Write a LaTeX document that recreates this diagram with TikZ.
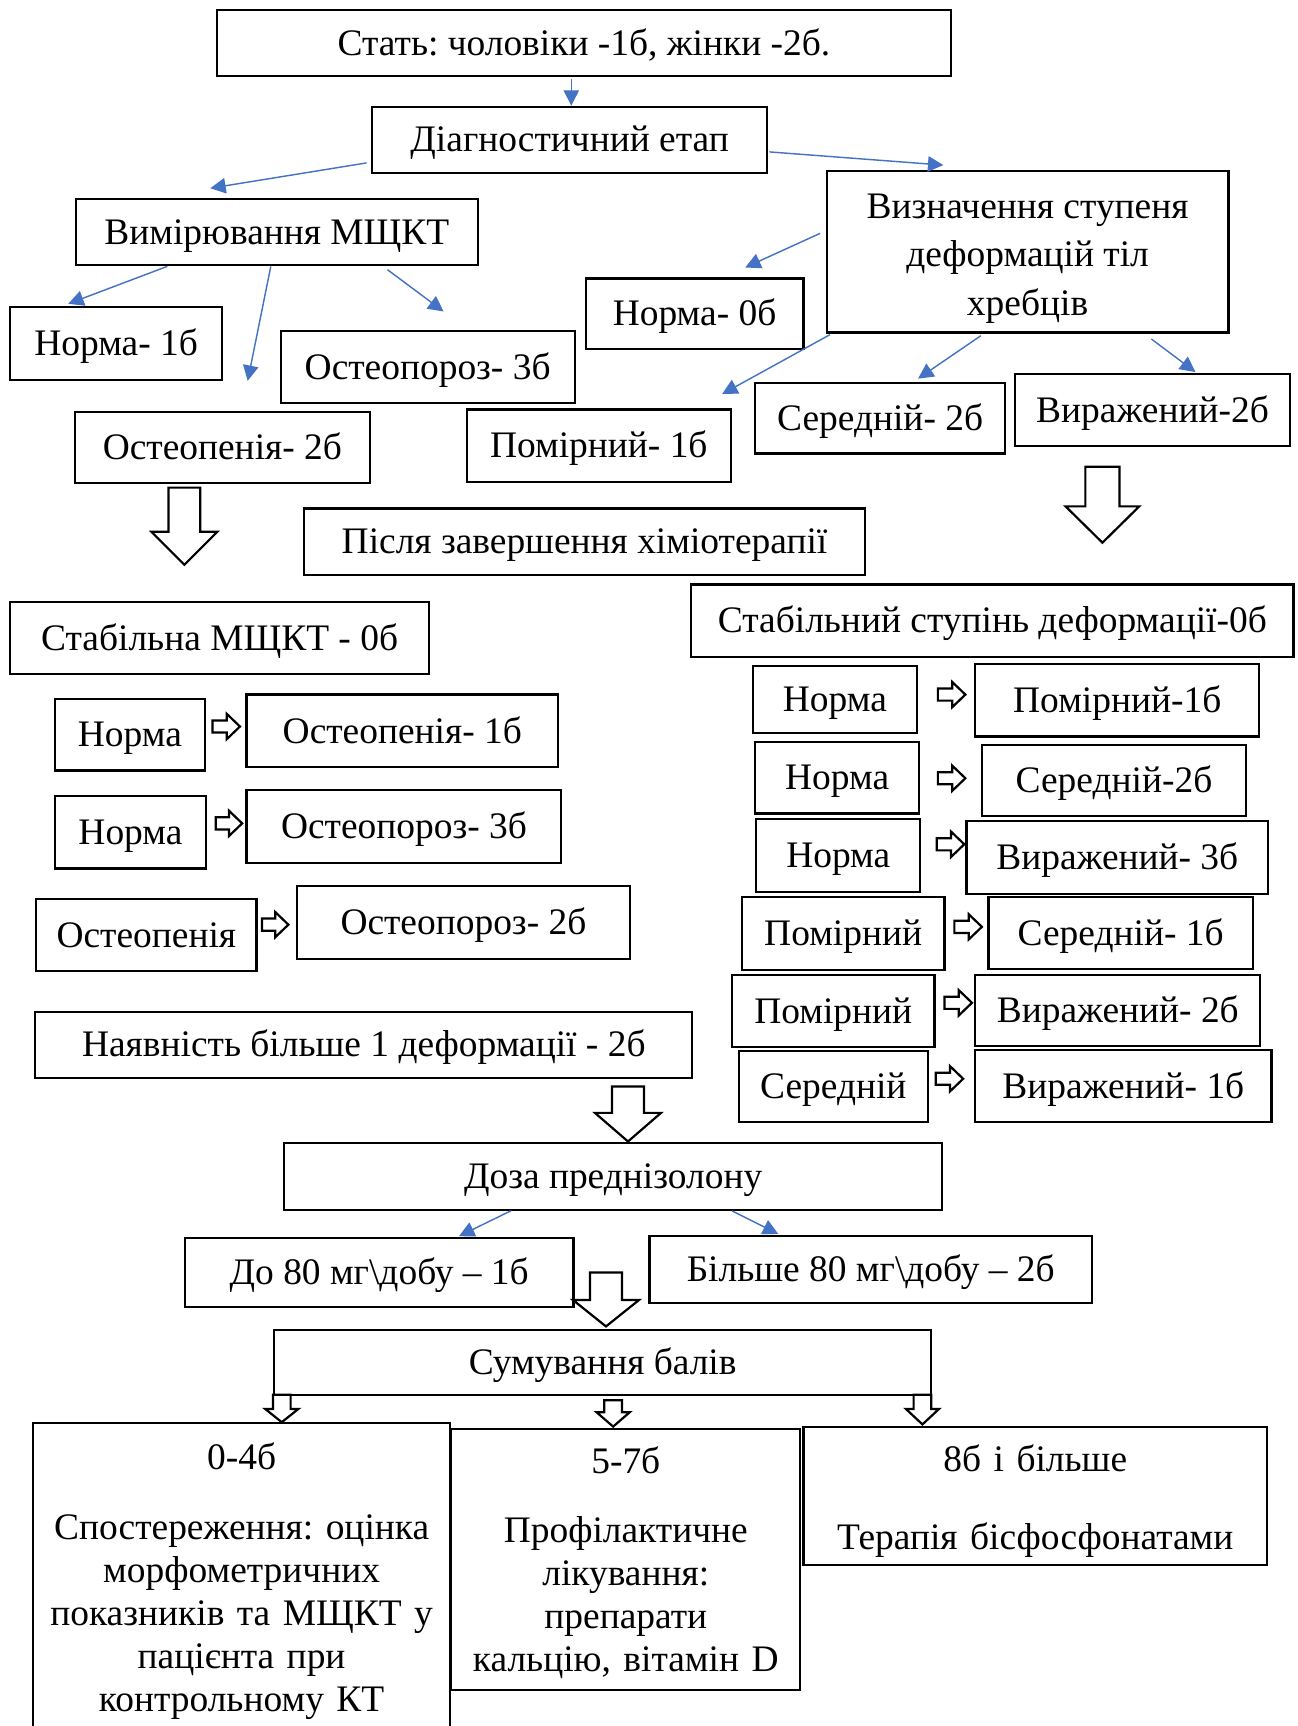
\documentclass[tikz,border=0pt]{standalone}
\usepackage{fontspec}
\setmainfont{Liberation Serif}
\usetikzlibrary{arrows.meta,calc}
\frenchspacing
\definecolor{linkblue}{RGB}{68,114,196}
\newcommand{\boxfont}{\fontsize{34}{39}\selectfont}
% block arrows: x, ytop, shaft half, head half, yhead, ytip
\newcommand{\hollowdown}[6]{\draw[block] (#1-#3,#2) -- (#1+#3,#2) -- (#1+#3,#5) -- (#1+#4,#5) -- (#1,#6) -- (#1-#4,#5) -- (#1-#3,#5) -- cycle;}
% xleft, y, shaft half, head half, xhead, xtip
\newcommand{\hollowright}[6]{\draw[block] (#1,#2-#3) -- (#5,#2-#3) -- (#5,#2-#4) -- (#6,#2) -- (#5,#2+#4) -- (#5,#2+#3) -- (#1,#2+#3) -- cycle;}
\tikzset{
  box/.style={draw, line width=2pt, inner sep=0pt, font=\boxfont, text height=30pt, text depth=8pt},
  tallbox/.style={draw, line width=2pt, inner sep=0pt, align=center, font=\boxfont},
  link/.style={draw=linkblue, line width=1.3pt, -{Triangle[length=14pt,width=14pt]}},
  block/.style={draw, line width=2pt, fill=white}
}
\begin{document}
\begin{tikzpicture}[x=1pt,y=-1pt]
\useasboundingbox (0,0) rectangle (1179,1568);

\node[box, minimum width=667pt, minimum height=60pt] (stat) at (530.5,39) {Стать: чоловіки -1б, жінки -2б.};
\node[box, minimum width=359pt, minimum height=60pt] (diag) at (517.5,127) {Діагностичний етап};
\node[box, minimum width=365pt, minimum height=60pt] (vym) at (251.5,211) {Вимірювання МЩКТ};
\node[tallbox, font=\fontsize{34}{44}\selectfont, minimum width=365pt, minimum height=147pt] (vyzn) at (933.5,228.5) {\rule{0pt}{35pt}Визначення ступеня\\ деформацій тіл\\ хребців};
\node[box, minimum width=193pt, minimum height=66pt] (norma1) at (105.5,312) {Норма- 1б};
\node[box, minimum width=267pt, minimum height=65pt] (osteopor3) at (388.5,333.5) {Остеопороз- 3б};
\node[box, minimum width=198pt, minimum height=64pt] (norma0) at (631,285) {Норма- 0б};
\node[box, minimum width=268pt, minimum height=65pt] (osteopen2) at (202,406.5) {Остеопенія- 2б};
\node[box, minimum width=240pt, minimum height=66pt] (pomirn1) at (544,405) {Помірний- 1б};
\node[box, minimum width=227pt, minimum height=64pt] (seredn2) at (799.5,380) {Середній- 2б};
\node[box, minimum width=250pt, minimum height=65pt] (vyrazh2) at (1047,372.5) {Виражений-2б};

\draw[link] ($(stat.south)+(-11.5,2)$) -- ($(diag.north)+(1.5,0)$);
\draw[link] ($(diag.south west)+(-4,-10)$) -- ($(vym.north)+(-60.5,-9)$);
\draw[link] ($(diag.east)+(1,11)$) -- ($(vyzn.north)+(-76.5,-4)$);
\draw[link] ($(vym.south)+(-99.5,0)$) -- ($(norma1.north)+(-43.5,-2)$);
\draw[link] ($(vym.south)+(-5.5,0)$) -- ($(osteopen2.north)+(23,-27)$);
\draw[link] ($(vym.south)+(100.5,3)$) -- ($(osteopor3.north)+(14.5,-17)$);
\draw[link] ($(vyzn.west)+(-5,-16.5)$) -- ($(norma0.north)+(46,-9)$);
\draw[link] ($(vyzn.south west)+(4,1)$) -- ($(pomirn1.north)+(112,-13)$);
\draw[link] ($(vyzn.south)+(-42.5,2)$) -- ($(seredn2.north)+(34.5,-3)$);
\draw[link] ($(vyzn.south)+(112.5,5)$) -- ($(vyrazh2.north)+(39,-1)$);

\hollowdown{167.5}{443}{14.5}{30}{483}{513}
\hollowdown{1001.5}{424}{15.5}{33.5}{460}{493}

\node[box, minimum width=510pt, minimum height=60pt] (pislya) at (531,492) {Після завершення хіміотерапії};
\node[box, minimum width=381pt, minimum height=65pt] (stabmct) at (199.5,579.5) {Стабільна МЩКТ - 0б};
\node[box, minimum width=547pt, minimum height=66pt] (stabdef) at (901.5,564) {Стабільний ступінь деформації-0б};

\node[box, minimum width=136pt, minimum height=65pt] (la1) at (118,667.5) {Норма};
\node[box, minimum width=283pt, minimum height=66pt] (lb1) at (365.5,664) {Остеопенія- 1б};
\node[box, minimum width=137pt, minimum height=66pt] (la2) at (118.5,756) {Норма};
\node[box, minimum width=286pt, minimum height=66pt] (lb2) at (367,751) {Остеопороз- 3б};
\node[box, minimum width=200pt, minimum height=65pt] (la3) at (133,849.5) {Остеопенія};
\node[box, minimum width=302pt, minimum height=66pt] (lb3) at (421,838) {Остеопороз- 2б};
\hollowright{193}{660}{5.5}{11.5}{206}{218}
\hollowright{196}{748}{5.5}{11.5}{208}{220}
\hollowright{238}{840}{5.5}{11.5}{250}{262}

\node[box, minimum width=149pt, minimum height=61pt] (ra1) at (758.5,635.5) {Норма};
\node[box, minimum width=258pt, minimum height=66pt] (rb1) at (1015,636) {Помірний-1б};
\node[box, minimum width=149pt, minimum height=65pt] (ra2) at (760.5,706.5) {Норма};
\node[box, minimum width=240pt, minimum height=64pt] (rb2) at (1012,709) {Середній-2б};
\node[box, minimum width=149pt, minimum height=66pt] (ra3) at (761.5,777) {Норма};
\node[box, minimum width=274pt, minimum height=66pt] (rb3) at (1015,779) {Виражений- 3б};
\node[box, minimum width=184pt, minimum height=66pt] (ra4) at (766,848) {Помірний};
\node[box, minimum width=240pt, minimum height=65pt] (rb4) at (1018,847.5) {Середній- 1б};
\node[box, minimum width=184pt, minimum height=65pt] (ra5) at (757,918.5) {Помірний};
\node[box, minimum width=259pt, minimum height=64pt] (rb5) at (1015.5,918) {Виражений- 2б};
\node[box, minimum width=172pt, minimum height=64pt] (ra6) at (757,987) {Середній};
\node[box, minimum width=269pt, minimum height=65pt] (rb6) at (1020.5,986.5) {Виражений- 1б};
\hollowright{852}{631}{5.5}{11.5}{865}{877}
\hollowright{852}{707}{5.5}{11.5}{865}{877}
\hollowright{851}{767}{5.5}{11.5}{864}{876}
\hollowright{867}{842}{5.5}{11.5}{880}{892}
\hollowright{858}{911}{5.5}{11.5}{871}{883}
\hollowright{850}{980}{5.5}{11.5}{863}{875}

\node[box, minimum width=597pt, minimum height=60pt] (nayav) at (330.5,949) {Наявність більше 1 деформації - 2б};
\hollowdown{570.5}{987}{14.5}{30}{1011}{1037}
\node[box, minimum width=598pt, minimum height=61pt] (doza) at (557,1068.5) {Доза преднізолону};
\node[box, minimum width=353pt, minimum height=62pt] (do80) at (344.5,1156) {До 80 мг\textbackslash добу – 1б};
\node[box, minimum width=402pt, minimum height=61pt] (bilshe80) at (791,1153.5) {Більше 80 мг\textbackslash добу – 2б};
\draw[link] ($(doza.south)+(-93,0)$) -- ($(do80.north)+(72.5,-1)$);
\draw[link] ($(doza.south)+(108,0)$) -- ($(bilshe80.north)+(-84,-1)$);
\hollowdown{550.5}{1156}{14.5}{30}{1181}{1205}
\node[box, minimum width=597pt, minimum height=59pt] (sum) at (547.5,1237.5) {Сумування балів};

\node[tallbox, text width=379pt, minimum height=287pt, anchor=north] (low) at (219.5,1292) {0-4б\\[25pt]Спостереження: оцінка\\ морфометричних\\ показників та МЩКТ у\\ пацієнта при\\ контрольному КТ};
\node[tallbox, text width=317pt, minimum height=237pt, anchor=north] (mid) at (568.5,1297) {\rule{0pt}{30pt}5-7б\\[24pt]Профілактичне\\ лікування:\\ препарати\\ кальцію, вітамін D};
\node[tallbox, text width=421pt, minimum height=126pt, anchor=north] (high) at (940.5,1295) {\rule{0pt}{33pt}8б і більше\\[32pt]Терапія бісфосфонатами};
\hollowdown{256}{1267}{8}{15}{1280}{1292}
\hollowdown{557}{1272}{8}{15}{1283}{1296}
\hollowdown{838}{1267}{8}{15}{1280}{1294}
\end{tikzpicture}
\end{document}
